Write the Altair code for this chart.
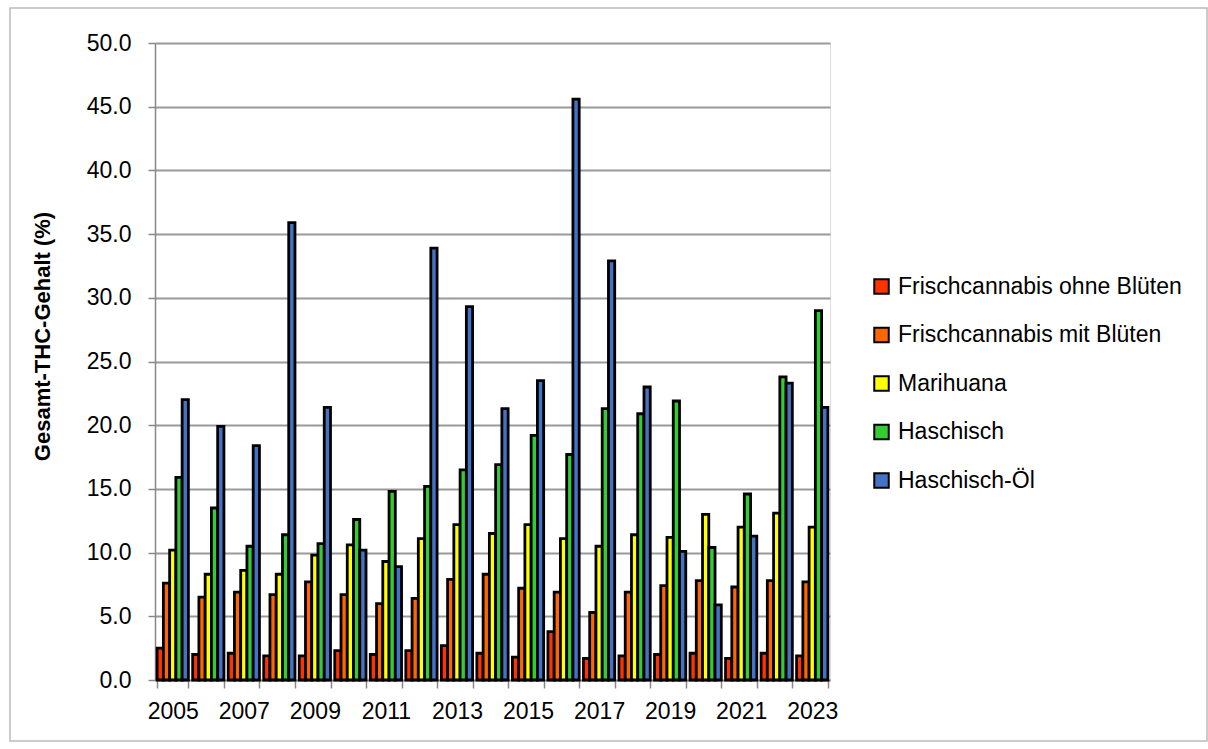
import altair as alt
import pandas as pd

years = list(range(2005, 2024))
series = ["Frischcannabis ohne Blüten", "Frischcannabis mit Blüten", "Marihuana", "Haschisch", "Haschisch-Öl"]
colors = ["#FF3300", "#FF6600", "#FFFF00", "#33CC33", "#4472C4"]

frisch_ohne = [2.5, 2.0, 2.1, 1.9, 1.9, 2.3, 2.0, 2.3, 2.7, 2.1, 1.8, 3.8, 1.7, 1.9, 2.0, 2.1, 1.7, 2.1, 1.9]
frisch_mit = [7.6, 6.5, 6.9, 6.7, 7.7, 6.7, 6.0, 6.4, 7.9, 8.3, 7.2, 6.9, 5.3, 6.9, 7.4, 7.8, 7.3, 7.8, 7.7]
marihuana = [10.2, 8.3, 8.6, 8.3, 9.8, 10.6, 9.3, 11.1, 12.2, 11.5, 12.2, 11.1, 10.5, 11.4, 11.2, 13.0, 12.0, 13.1, 12.0]
haschisch = [15.9, 13.5, 10.5, 11.4, 10.7, 12.6, 14.8, 15.2, 16.5, 16.9, 19.2, 17.7, 21.3, 20.9, 21.9, 10.4, 14.6, 23.8, 29.0]
haschisch_oel = [22.0, 19.9, 18.4, 35.9, 21.4, 10.2, 8.9, 33.9, 29.3, 21.3, 23.5, 45.6, 32.9, 23.0, 10.1, 5.9, 11.3, 23.3, 21.4]

rows = []
for s, vals in zip(series, [frisch_ohne, frisch_mit, marihuana, haschisch, haschisch_oel]):
    for y, v in zip(years, vals):
        rows.append({"Jahr": y, "Sorte": s, "THC": v})
df = pd.DataFrame(rows)

W, H = 675, 637
PL, PT = 155, 43

bars = alt.Chart(df).mark_bar(stroke="black", strokeWidth=2.8).encode(
    x=alt.X("Jahr:O", title=None,
            scale=alt.Scale(paddingInner=0.12, paddingOuter=0.06),
            axis=alt.Axis(labelExpr="datum.value % 2 == 1 ? datum.label : ''",
                          labelAngle=0, tickBand="extent", domainColor="#888888",
                          tickColor="#888888", tickSize=8, tickWidth=1.5, domainWidth=1.5,
                          labelFontSize=23, labelColor="black", labelPadding=12,
                          labelFont="Liberation Sans", grid=False)),
    xOffset=alt.XOffset("Sorte:N", sort=series),
    y=alt.Y("THC:Q", title="Gesamt-THC-Gehalt (%)",
            scale=alt.Scale(domain=[0, 50], nice=False),
            axis=alt.Axis(values=[0, 5, 10, 15, 20, 25, 30, 35, 40, 45, 50], format=".1f",
                          grid=True, gridColor="#999999", gridWidth=2,
                          domainColor="#888888", domainWidth=1.5, tickColor="#888888",
                          tickSize=7, tickWidth=1.5,
                          labelFontSize=23, labelColor="black", labelFont="Liberation Sans",
                          labelPadding=17,
                          titleFontSize=22, titleFont="Liberation Sans", titleFontWeight="bold",
                          titleColor="black", titleX=42 - PL, titleY=336 - PT,
                          titleBaseline="middle", titleAlign="center", titleAngle=270)),
    color=alt.Color("Sorte:N", sort=series,
                    scale=alt.Scale(domain=series, range=colors),
                    legend=alt.Legend(title=None, orient="none", legendX=715, legendY=232,
                                      symbolType="square", symbolSize=210,
                                      symbolStrokeColor="black", symbolStrokeWidth=2,
                                      labelFontSize=23, labelFont="Liberation Sans",
                                      labelColor="black", rowPadding=24.5, labelLimit=400,
                                      labelOffset=5)),
)

frame = alt.Chart(pd.DataFrame({"a": [0]})).mark_rect(
    fill=None, stroke="#BBBBBB", strokeWidth=1.5
).encode(x=alt.value(10 - PL), x2=alt.value(1207 - PL), y=alt.value(8 - PT), y2=alt.value(741 - PT))

chart = alt.layer(frame, bars).properties(
    width=W, height=H,
    autosize=alt.AutoSizeParams(type="none"),
    padding={"left": PL, "top": PT, "right": 1208 - PL - W, "bottom": 749 - PT - H},
).configure_view(stroke=None).configure(background="white")

chart.save("out.html", embed_options={"renderer": "svg", "actions": False})
